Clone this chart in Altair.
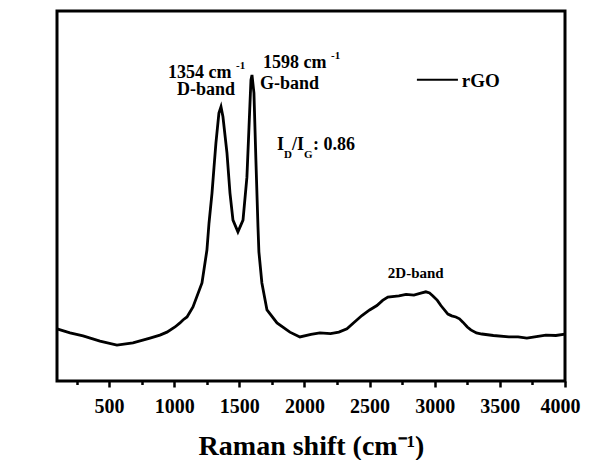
import altair as alt
import pandas as pd

# Raman spectrum of rGO
raman_shift = [100, 200, 300, 430, 560, 683, 814, 890, 944, 1006, 1044, 1067, 1098, 1144,
               1213, 1251, 1267, 1290, 1305, 1320, 1343, 1359, 1374, 1405, 1428, 1451, 1489,
               1528, 1558, 1574, 1589, 1597, 1612, 1627, 1643, 1650, 1673, 1712, 1789, 1888,
               1965, 2050, 2118, 2200, 2264, 2326, 2380, 2441, 2500, 2556, 2600, 2640, 2725,
               2780, 2840, 2900, 2932, 2960, 2986, 3020, 3047, 3101, 3130, 3162, 3190, 3216,
               3250, 3277, 3320, 3362, 3450, 3569, 3640, 3707, 3780, 3853, 3930, 4000]
intensity = [14.1, 13.0, 12.2, 10.8, 9.7, 10.3, 11.6, 12.4, 13.2, 14.6, 15.7, 16.5, 17.3, 20.0,
             26.5, 35.4, 42.7, 50.8, 57.6, 64.3, 72.4, 74.1, 71.4, 61.6, 50.8, 43.5, 40.3,
             43.5, 55.1, 68.6, 81.4, 82.7, 77.8, 59.7, 41.6, 34.9, 26.5, 19.2, 15.7, 13.2,
             11.9, 12.6, 13.0, 12.8, 13.2, 14.1, 15.8, 17.7, 19.2, 20.4, 21.8, 22.7, 23.0,
             23.4, 23.2, 23.8, 24.1, 23.8, 23.0, 21.8, 20.4, 18.1, 17.6, 17.3, 16.8, 15.9,
             14.6, 13.8, 13.0, 12.7, 12.3, 11.9, 11.9, 11.6, 12.0, 12.4, 12.3, 12.7]

major_ticks = [500, 1000, 1500, 2000, 2500, 3000, 3500, 4000]
minor_ticks = [250, 750, 1250, 1750, 2250, 2750, 3250, 3750]

# annotations (data coordinates)
ann_text = ["1354 cm", "-1", "D-band", "1598 cm", "-1", "G-band",
            "I", "D", "/I", "G", ": 0.86", "2D-band", "rGO"]
ann_x = [952, 1474, 1021, 1681, 2204, 1658, 1789, 1842, 1904, 1996, 2065, 2640, 3208]
ann_y = [81.9, 84.3, 77.3, 84.6, 87.0, 78.9, 62.4, 60.4, 62.4, 60.4, 62.4, 27.8, 79.5]
ann_size = [18, 11, 18, 18, 11, 18, 18, 11, 18, 11, 18, 15, 19]

legend_x = [2863]
legend_x2 = [3178]
legend_y = [81.4]

FONT = "Liberation Serif"

spec = pd.DataFrame({"x": raman_shift, "y": intensity})
ann = pd.DataFrame({"x": ann_x, "y": ann_y, "text": ann_text, "size": ann_size})
leg = pd.DataFrame({"x": legend_x, "x2": legend_x2, "y": legend_y})

xscale = alt.Scale(domain=[100, 4000], nice=False, zero=False)
yscale = alt.Scale(domain=[0, 100], nice=False, zero=False)

yaxis = alt.Axis(title="Intensity (a.u.)", labels=False, ticks=False, domain=False,
                 grid=False, titleFont=FONT, titleFontSize=28,
                 titleFontWeight="bold", titleColor="black", titlePadding=20)

line = alt.Chart(spec).mark_line(color="black", strokeWidth=2.8).encode(
    x=alt.X("x:Q", scale=xscale,
            axis=alt.Axis(title="Raman shift (cm⁻¹)", values=major_ticks, format="d",
                          grid=False, orient="bottom", domain=False, tickColor="black",
                          tickWidth=2.5, tickSize=6, labelFlush=True, labelFlushOffset=15,
                          labelFont=FONT, labelFontSize=20, labelFontWeight="bold",
                          labelColor="black", labelPadding=9, labelOverlap=False,
                          titleFont=FONT, titleFontSize=28, titleFontWeight="bold",
                          titleColor="black", titlePadding=16)),
    y=alt.Y("y:Q", scale=yscale, axis=yaxis),
)

legend_line = alt.Chart(leg).mark_rule(color="black", strokeWidth=2).encode(
    x=alt.X("x:Q", scale=xscale,
            axis=alt.Axis(title=None, values=minor_ticks, labels=False, grid=False,
                          orient="bottom", domain=False, tickColor="black",
                          tickWidth=2.5, tickSize=3.5)),
    x2="x2:Q",
    y=alt.Y("y:Q", scale=yscale, axis=yaxis),
)

texts = alt.Chart(ann).mark_text(font=FONT, fontWeight="bold", color="black",
                                 align="left", baseline="alphabetic").encode(
    x=alt.X("x:Q", scale=xscale, axis=None),
    y=alt.Y("y:Q", scale=yscale, axis=None),
    text="text:N", size=alt.Size("size:Q", scale=None, legend=None)
)

chart = alt.layer(line, legend_line, texts).resolve_axis(x="independent").properties(
    width=508, height=370,
    autosize=alt.AutoSizeParams(type="none"),
    padding={"left": 49, "top": 3, "right": 17, "bottom": 79},
).configure_view(stroke="black", strokeWidth=3)

chart.save("out.html", embed_options={"renderer": "svg", "actions": False})
